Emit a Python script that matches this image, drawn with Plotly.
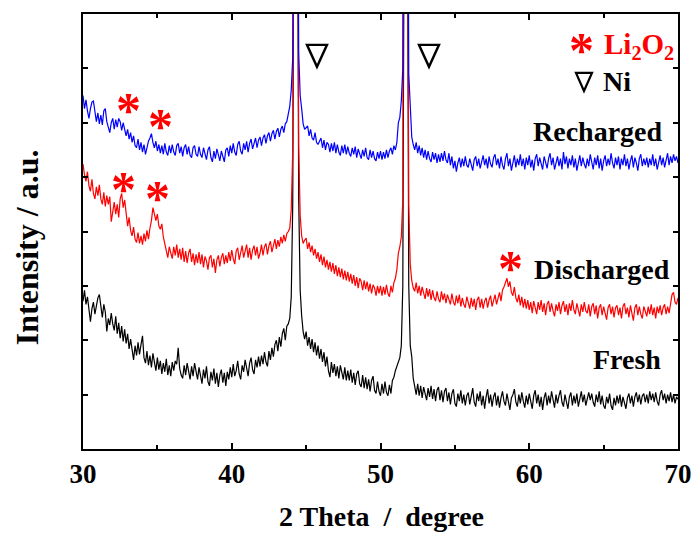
import numpy as np
import plotly.graph_objects as go

# 2-theta sampling positions (deg), 0.1 deg step
two_theta = np.round(np.arange(29.9, 70.15, 0.1), 1)

fresh = [
    2.84, 2.72, 2.92, 2.66, 2.80, 2.50, 2.34, 2.58, 2.70, 2.48, 2.62, 2.78, 2.84, 2.56, 2.42, 2.66, 2.52, 2.16, 2.40, 2.28,
    2.50, 2.30, 2.18, 2.44, 2.12, 2.32, 2.04, 2.26, 1.98, 2.20, 1.94, 2.12, 1.84, 2.02, 1.78, 1.64, 1.90, 1.72, 1.96, 1.74,
    1.92, 2.08, 1.68, 1.58, 1.80, 1.54, 1.72, 1.50, 1.76, 1.56, 1.44, 1.68, 1.46, 1.62, 1.38, 1.58, 1.42, 1.66, 1.36, 1.54,
    1.34, 1.60, 1.44, 1.62, 1.56, 1.86, 1.48, 1.36, 1.30, 1.54, 1.36, 1.58, 1.38, 1.28, 1.52, 1.34, 1.58, 1.40, 1.28, 1.50,
    1.36, 1.20, 1.46, 1.30, 1.52, 1.24, 1.16, 1.42, 1.26, 1.48, 1.20, 1.40, 1.14, 1.36, 1.46, 1.22, 1.40, 1.16, 1.42, 1.28,
    1.50, 1.32, 1.56, 1.34, 1.44, 1.62, 1.38, 1.28, 1.54, 1.42, 1.64, 1.46, 1.34, 1.58, 1.68, 1.46, 1.38, 1.64, 1.50, 1.70,
    1.52, 1.72, 1.56, 1.78, 1.60, 1.52, 1.80, 1.64, 1.86, 1.70, 1.92, 2.00, 1.80, 2.06, 1.88, 2.12, 2.22, 2.00, 2.26, 2.30,
    2.40, 2.80, 4.50, 12.0, 40.0, 12.0, 4.60, 2.92, 2.45, 2.16, 2.02, 2.16, 1.90, 2.06, 1.84, 2.02, 1.78, 1.96, 1.72, 1.90,
    1.66, 1.84, 1.60, 1.78, 1.52, 1.70, 1.44, 1.32, 1.60, 1.40, 1.56, 1.34, 1.52, 1.30, 1.54, 1.38, 1.28, 1.50, 1.26, 1.44,
    1.26, 1.46, 1.22, 1.40, 1.18, 1.38, 1.44, 1.20, 1.14, 1.36, 1.12, 1.32, 1.10, 1.28, 1.06, 1.26, 1.34, 1.08, 1.02, 1.24,
    1.06, 0.98, 1.20, 1.02, 1.24, 1.04, 0.98, 1.18, 1.02, 1.26, 1.32, 1.44, 1.52, 1.60, 1.68, 1.90, 3.00, 11.0, 40.0, 11.0,
    3.00, 1.90, 1.70, 1.30, 1.10, 1.00, 1.20, 0.98, 1.16, 0.94, 1.14, 1.00, 0.90, 1.12, 0.96, 1.16, 0.92, 1.10, 0.88, 1.08,
    1.14, 0.90, 1.08, 0.86, 1.06, 1.12, 0.88, 1.04, 0.82, 1.02, 1.10, 0.84, 0.78, 1.02, 0.88, 1.08, 0.84, 1.00, 0.80, 0.98,
    1.04, 0.82, 1.00, 1.12, 0.86, 0.78, 1.02, 0.88, 1.06, 0.80, 0.98, 0.74, 0.96, 1.10, 0.84, 1.00, 0.78, 0.96, 1.04, 0.80,
    0.98, 0.76, 0.94, 1.06, 0.88, 0.80, 1.02, 0.84, 0.72, 0.94, 1.00, 1.10, 0.86, 0.78, 1.00, 0.84, 1.04, 0.88, 0.76, 0.98,
    0.82, 1.02, 0.86, 0.74, 0.98, 1.08, 0.84, 1.00, 0.78, 0.96, 0.72, 0.94, 1.04, 0.80, 0.98, 0.84, 1.06, 0.86, 0.76, 1.00,
    0.84, 0.98, 1.08, 0.86, 0.78, 1.00, 0.84, 0.74, 0.96, 1.04, 0.80, 0.98, 0.84, 1.02, 0.78, 0.96, 1.06, 0.86, 1.00, 0.80,
    0.96, 1.04, 0.90, 1.02, 0.86, 0.78, 1.00, 0.86, 1.06, 0.82, 0.98, 0.80, 0.74, 0.96, 0.84, 1.02, 0.80, 0.72, 0.94, 0.80,
    0.98, 0.84, 1.00, 0.78, 0.96, 0.82, 0.74, 0.94, 1.02, 0.84, 0.98, 0.78, 0.96, 1.04, 0.86, 1.00, 0.82, 0.98, 1.02, 0.86,
    1.00, 0.84, 1.06, 0.90, 1.02, 0.86, 1.04, 0.88, 0.80, 1.00, 1.08, 0.90, 1.02, 0.84, 1.00, 0.88, 1.04, 0.86, 1.00, 0.84,
    0.96, 0.92, 0.88,
]

discharged = [
    5.12, 5.24, 5.04, 4.92, 5.10, 4.84, 4.74, 4.96, 4.70, 4.60, 4.82, 4.66, 4.86, 4.60, 4.50, 4.72, 4.46, 4.66, 4.50, 4.64,
    4.18, 4.42, 4.54, 4.32, 4.50, 4.26, 4.60, 4.70, 4.44, 4.58, 4.26, 4.10, 4.26, 4.02, 3.92, 4.08, 3.86, 3.80, 3.98, 3.78,
    3.92, 3.76, 3.96, 3.82, 4.02, 3.86, 4.06, 4.20, 4.44, 4.28, 4.20, 4.32, 4.10, 4.04, 4.14, 3.90, 3.76, 3.60, 3.52, 3.72,
    3.58, 3.50, 3.72, 3.56, 3.76, 3.52, 3.68, 3.48, 3.70, 3.44, 3.64, 3.42, 3.60, 3.68, 3.44, 3.60, 3.38, 3.58, 3.42, 3.62,
    3.40, 3.58, 3.34, 3.54, 3.46, 3.30, 3.52, 3.56, 3.34, 3.50, 3.24, 3.48, 3.56, 3.36, 3.52, 3.60, 3.40, 3.56, 3.42, 3.62,
    3.46, 3.66, 3.50, 3.40, 3.64, 3.70, 3.48, 3.62, 3.74, 3.52, 3.68, 3.76, 3.52, 3.70, 3.48, 3.66, 3.74, 3.56, 3.72, 3.50,
    3.60, 3.76, 3.56, 3.72, 3.78, 3.58, 3.74, 3.82, 3.62, 3.78, 3.86, 3.68, 3.84, 3.72, 3.90, 3.78, 3.94, 3.82, 3.96, 4.00,
    4.06, 4.40, 5.50, 13.0, 40.0, 13.0, 5.60, 4.30, 3.92, 3.78, 3.84, 3.88, 3.68, 3.80, 3.62, 3.74, 3.56, 3.68, 3.50, 3.62,
    3.44, 3.58, 3.38, 3.54, 3.34, 3.48, 3.30, 3.44, 3.26, 3.42, 3.22, 3.38, 3.18, 3.34, 3.16, 3.32, 3.12, 3.28, 3.10, 3.26,
    3.08, 3.22, 3.04, 3.20, 3.00, 3.16, 2.96, 3.14, 3.08, 2.92, 3.10, 2.94, 3.08, 2.90, 3.04, 2.86, 3.02, 2.96, 2.82, 3.00,
    2.86, 3.00, 2.82, 2.98, 2.84, 3.02, 2.86, 2.80, 3.00, 2.88, 3.06, 3.14, 3.30, 3.60, 3.72, 3.90, 4.60, 12.0, 40.0, 12.0,
    4.50, 3.40, 3.10, 2.96, 2.90, 3.06, 2.86, 3.00, 2.82, 2.98, 2.84, 2.76, 2.96, 2.80, 2.94, 2.74, 2.92, 2.78, 2.72, 2.90,
    2.76, 2.70, 2.90, 2.74, 2.86, 2.68, 2.84, 2.72, 2.66, 2.86, 2.70, 2.64, 2.82, 2.68, 2.84, 2.62, 2.78, 2.66, 2.60, 2.80,
    2.66, 2.58, 2.78, 2.62, 2.76, 2.56, 2.74, 2.80, 2.60, 2.76, 2.58, 2.72, 2.78, 2.60, 2.74, 2.82, 2.62, 2.76, 2.84, 2.66,
    2.80, 2.88, 2.72, 2.92, 2.98, 3.08, 3.14, 2.98, 3.08, 2.88, 2.82, 2.98, 2.78, 2.70, 2.84, 2.64, 2.80, 2.60, 2.76, 2.58,
    2.74, 2.56, 2.70, 2.50, 2.72, 2.60, 2.48, 2.70, 2.56, 2.74, 2.52, 2.68, 2.46, 2.66, 2.72, 2.52, 2.68, 2.54, 2.44, 2.66,
    2.54, 2.70, 2.48, 2.64, 2.72, 2.52, 2.66, 2.46, 2.68, 2.54, 2.74, 2.56, 2.48, 2.68, 2.54, 2.44, 2.66, 2.52, 2.70, 2.54,
    2.50, 2.66, 2.44, 2.62, 2.68, 2.48, 2.64, 2.40, 2.60, 2.66, 2.46, 2.62, 2.50, 2.38, 2.60, 2.66, 2.48, 2.62, 2.42, 2.60,
    2.64, 2.46, 2.60, 2.40, 2.62, 2.68, 2.48, 2.60, 2.42, 2.64, 2.50, 2.36, 2.60, 2.66, 2.46, 2.62, 2.48, 2.40, 2.62, 2.50,
    2.44, 2.62, 2.48, 2.66, 2.46, 2.60, 2.40, 2.62, 2.50, 2.64, 2.46, 2.60, 2.66, 2.48, 2.62, 2.50, 2.66, 2.84, 2.88, 2.70,
    2.66, 2.78, 2.68,
]

recharged = [
    6.44, 6.50, 6.26, 6.42, 6.22, 6.08, 6.26, 6.38, 6.40, 6.16, 6.02, 6.18, 5.98, 6.14, 5.96, 6.22, 6.26, 6.02, 5.90, 5.82,
    6.00, 6.08, 5.88, 6.06, 5.92, 6.08, 6.02, 5.86, 6.00, 5.84, 5.76, 5.88, 5.70, 5.82, 5.64, 5.76, 5.58, 5.54, 5.70, 5.50,
    5.64, 5.46, 5.60, 5.42, 5.58, 5.66, 5.72, 5.80, 5.64, 5.54, 5.66, 5.48, 5.60, 5.44, 5.58, 5.42, 5.62, 5.46, 5.40, 5.58,
    5.44, 5.60, 5.46, 5.40, 5.58, 5.62, 5.44, 5.56, 5.38, 5.54, 5.60, 5.42, 5.56, 5.40, 5.36, 5.54, 5.58, 5.42, 5.38, 5.56,
    5.42, 5.36, 5.54, 5.40, 5.32, 5.50, 5.56, 5.36, 5.28, 5.48, 5.34, 5.52, 5.38, 5.30, 5.48, 5.36, 5.28, 5.50, 5.54, 5.38,
    5.58, 5.44, 5.62, 5.46, 5.40, 5.60, 5.66, 5.48, 5.42, 5.62, 5.50, 5.66, 5.46, 5.62, 5.70, 5.52, 5.64, 5.72, 5.54, 5.68,
    5.74, 5.58, 5.72, 5.78, 5.62, 5.76, 5.82, 5.66, 5.80, 5.86, 5.70, 5.84, 5.90, 5.74, 5.88, 5.94, 5.82, 5.98, 6.02, 6.14,
    6.30, 6.60, 7.20, 14.0, 40.0, 14.0, 7.30, 6.50, 6.26, 5.98, 5.88, 5.92, 5.94, 5.76, 5.88, 5.72, 5.68, 5.82, 5.64, 5.60,
    5.66, 5.72, 5.54, 5.68, 5.50, 5.64, 5.60, 5.46, 5.62, 5.48, 5.64, 5.44, 5.60, 5.46, 5.40, 5.58, 5.44, 5.60, 5.42, 5.56,
    5.44, 5.38, 5.54, 5.42, 5.56, 5.36, 5.52, 5.40, 5.34, 5.50, 5.38, 5.54, 5.36, 5.32, 5.50, 5.36, 5.48, 5.34, 5.30, 5.46,
    5.34, 5.48, 5.32, 5.46, 5.34, 5.50, 5.36, 5.48, 5.54, 5.42, 5.58, 5.50, 5.64, 6.00, 6.10, 6.40, 7.00, 14.0, 40.0, 14.0,
    6.90, 6.20, 5.74, 5.60, 5.50, 5.64, 5.44, 5.58, 5.40, 5.54, 5.36, 5.50, 5.32, 5.48, 5.34, 5.28, 5.46, 5.32, 5.44, 5.26,
    5.42, 5.28, 5.44, 5.30, 5.48, 5.32, 5.26, 5.44, 5.22, 5.38, 5.16, 5.30, 5.10, 5.26, 5.36, 5.18, 5.34, 5.20, 5.38, 5.22,
    5.18, 5.34, 5.20, 5.12, 5.32, 5.38, 5.20, 5.34, 5.16, 5.32, 5.40, 5.22, 5.34, 5.16, 5.38, 5.24, 5.18, 5.36, 5.42, 5.22,
    5.34, 5.16, 5.38, 5.22, 5.14, 5.34, 5.44, 5.20, 5.34, 5.12, 5.30, 5.40, 5.18, 5.34, 5.22, 5.42, 5.20, 5.34, 5.14, 5.36,
    5.22, 5.40, 5.18, 5.32, 5.12, 5.34, 5.42, 5.20, 5.36, 5.22, 5.14, 5.38, 5.24, 5.16, 5.34, 5.44, 5.22, 5.36, 5.14, 5.30,
    5.38, 5.20, 5.34, 5.14, 5.46, 5.24, 5.38, 5.16, 5.34, 5.22, 5.40, 5.18, 5.34, 5.12, 5.30, 5.40, 5.20, 5.36, 5.24, 5.16,
    5.34, 5.20, 5.42, 5.26, 5.14, 5.36, 5.22, 5.40, 5.16, 5.34, 5.12, 5.30, 5.40, 5.20, 5.34, 5.22, 5.44, 5.26, 5.16, 5.36,
    5.22, 5.38, 5.14, 5.34, 5.22, 5.42, 5.20, 5.34, 5.14, 5.30, 5.40, 5.18, 5.36, 5.26, 5.12, 5.34, 5.42, 5.20, 5.34, 5.22,
    5.36, 5.18, 5.34, 5.22, 5.42, 5.20, 5.34, 5.14, 5.30, 5.40, 5.22, 5.36, 5.18, 5.34, 5.44, 5.22, 5.38, 5.26, 5.42, 5.30,
    5.38, 5.26, 5.32,
]

for arr in (fresh, discharged, recharged):
    if len(arr) != len(two_theta):
        raise ValueError(f"length mismatch: {len(arr)} vs {len(two_theta)}")

series_names = ["Fresh", "Discharged", "Recharged"]
series_colors = ["#000000", "#ff0000", "#0000ff"]

# Li2O2 reflections marked with a red star (x, y of star centre)
li2o2_marks_x = [33.03, 35.18, 32.69, 35.04, 58.77]
li2o2_marks_y = [6.34, 6.05, 4.90, 4.72, 3.43]
# Ni reflections marked with an open triangle
ni_marks_x = [45.73, 53.26]
ni_marks_y = [7.23, 7.23]

SERIF = "Liberation Serif"

fig = go.Figure()
for name, ys, col in zip(series_names, [fresh, discharged, recharged], series_colors):
    fig.add_trace(go.Scatter(
        x=two_theta, y=ys, mode="lines", name=name,
        line=dict(color=col, width=1.2), showlegend=False,
    ))

annotations = []

star_font = dict(family=SERIF, size=50, color="#ff0000", weight="bold")
star_shift = -6
for sx, sy in zip(li2o2_marks_x, li2o2_marks_y):
    annotations.append(dict(x=sx, y=sy, xref="x", yref="y", text="*",
                            showarrow=False, font=star_font, yshift=star_shift,
                            xanchor="center", yanchor="middle"))

shapes = []
tri_big = "M -10,11 L 10,11 L 0,-11 Z"
tri_small = "M -8,9 L 8,9 L 0,-9 Z"
for tx, ty in zip(ni_marks_x, ni_marks_y):
    shapes.append(dict(type="path", xref="x", yref="y",
                       xsizemode="pixel", ysizemode="pixel",
                       xanchor=tx, yanchor=ty, path=tri_big,
                       line=dict(color="black", width=2.4)))
shapes.append(dict(type="path", xref="x", yref="y",
                   xsizemode="pixel", ysizemode="pixel",
                   xanchor=63.68, yanchor=6.75, path=tri_small,
                   line=dict(color="black", width=2.2)))

label_font = dict(family=SERIF, size=28, color="black", weight="bold")

# key for the markers
annotations.append(dict(x=63.48, y=7.44, xref="x", yref="y", text="*",
                        showarrow=False, font=star_font, yshift=star_shift,
                        xanchor="center", yanchor="middle"))
annotations.append(dict(x=64.89, y=7.41, xref="x", yref="y",
                        text="Li<sub>2</sub>O<sub>2</sub>", showarrow=False,
                        font=dict(family=SERIF, size=29, color="#ff0000", weight="bold"),
                        xanchor="left", yanchor="middle"))
annotations.append(dict(x=64.82, y=6.75, xref="x", yref="y", text="Ni",
                        showarrow=False, font=label_font,
                        xanchor="left", yanchor="middle"))

# curve labels
for txt, lx, ly in [("Recharged", 69.13, 5.83), ("Discharged", 69.60, 3.31), ("Fresh", 68.99, 1.64)]:
    annotations.append(dict(x=lx, y=ly, xref="x", yref="y", text=txt,
                            showarrow=False, font=label_font,
                            xanchor="right", yanchor="middle"))

# axis titles
annotations.append(dict(x=0.5025, y=0, xref="paper", yref="paper",
                        text="2 Theta\u00a0 /\u00a0 degree", showarrow=False,
                        font=dict(family=SERIF, size=28, color="black", weight="bold"),
                        xanchor="center", yanchor="middle", yshift=-67))
annotations.append(dict(x=0, y=0.464, xref="paper", yref="paper",
                        text="Intensity / a.u.", showarrow=False, textangle=-90,
                        font=dict(family=SERIF, size=32, color="black", weight="bold"),
                        xanchor="center", yanchor="middle", xshift=-56))

fig.update_layout(
    width=695, height=538,
    margin=dict(l=83, r=17, t=14, b=89, autoexpand=False),
    paper_bgcolor="white", plot_bgcolor="white",
    annotations=annotations, shapes=shapes,
    xaxis=dict(
        range=[30, 70], tickmode="linear", tick0=30, dtick=10, automargin=False,
        ticks="inside", ticklen=6, tickwidth=1.5, tickcolor="black",
        showline=True, linecolor="black", linewidth=1.5, mirror="allticks",
        showgrid=False, zeroline=False,
        tickfont=dict(family=SERIF, size=27, color="black", weight="bold"),
        minor=dict(ticks="inside", ticklen=4, dtick=5, tickwidth=1.5, tickcolor="black", showgrid=False),
    ),
    yaxis=dict(
        range=[0, 8], tickmode="linear", tick0=0, dtick=1, automargin=False,
        ticks="inside", ticklen=5, tickwidth=1.5, tickcolor="black",
        showline=True, linecolor="black", linewidth=1.5, mirror="allticks",
        showgrid=False, zeroline=False, showticklabels=False,
    ),
)

fig.write_html("out.html")
